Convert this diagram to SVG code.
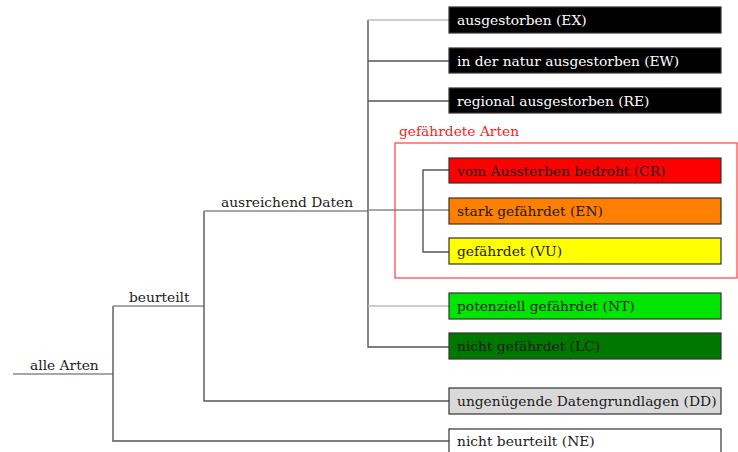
<svg xmlns="http://www.w3.org/2000/svg" width="738" height="452" viewBox="0 0 738 452">
<style>
.t{font-family:"DejaVu Serif","Liberation Serif",serif;font-size:13.8px;fill:#1a1a1a}
.w{fill:#ffffff}
.box{stroke:#333;stroke-width:1.2}
.ln{fill:none;stroke:#555;stroke-width:1.4}
.lt{fill:none;stroke:#bdbdbd;stroke-width:1.4}
.md{fill:none;stroke:#8a8a8a;stroke-width:1.4}
</style>
<rect width="738" height="452" fill="#ffffff"/>
<g id="connectors">
<line class="md" x1="13" y1="374" x2="113" y2="374"/>
<polyline class="ln" points="113,306 113,441 449,441"/>
<line class="md" x1="113" y1="306" x2="204" y2="306"/>
<polyline class="ln" points="204,211 204,401 449,401"/>
<line class="md" x1="204" y1="211" x2="368" y2="211"/>
<polyline class="ln" points="368,20 368,347 449,347"/>
<line class="lt" x1="368" y1="20" x2="449" y2="20"/>
<line class="ln" x1="368" y1="61" x2="449" y2="61"/>
<line class="ln" x1="368" y1="101" x2="449" y2="101"/>
<line class="lt" x1="368" y1="306" x2="449" y2="306"/>
<line class="md" x1="368" y1="210" x2="449" y2="210"/>
<polyline class="ln" points="449,170 423,170 423,252 449,252"/>
</g>
<g id="labels">
<text class="t" x="30" y="370">alle Arten</text>
<text class="t" x="129" y="302">beurteilt</text>
<text class="t" x="221" y="207">ausreichend Daten</text>
</g>
<g id="gefaehrdete">
<rect x="395" y="143" width="342" height="135" fill="none" stroke="#ff4040" stroke-width="1.2"/>
<text class="t" x="399" y="136" style="fill:#ff2020">gefährdete Arten</text>
</g>
<g id="EX"><rect class="box" x="449" y="7" width="272" height="26" fill="#000"/><text class="t w" x="457" y="25">ausgestorben (EX)</text></g>
<g id="EW"><rect class="box" x="449" y="48" width="272" height="25" fill="#000"/><text class="t w" x="457" y="66">in der natur ausgestorben (EW)</text></g>
<g id="RE"><rect class="box" x="449" y="88" width="272" height="25" fill="#000"/><text class="t w" x="457" y="106">regional ausgestorben (RE)</text></g>
<g id="CR"><rect class="box" x="449" y="158" width="272" height="25" fill="#ff0000"/><text class="t" x="457" y="176">vom Aussterben bedroht (CR)</text></g>
<g id="EN"><rect class="box" x="449" y="198" width="272" height="26" fill="#ff8000"/><text class="t" x="457" y="216">stark gefährdet (EN)</text></g>
<g id="VU"><rect class="box" x="449" y="238" width="272" height="26" fill="#ffff00"/><text class="t" x="457" y="256">gefährdet (VU)</text></g>
<g id="NT"><rect class="box" x="449" y="293" width="272" height="26" fill="#00e600"/><text class="t" x="457" y="311">potenziell gefährdet (NT)</text></g>
<g id="LC"><rect class="box" x="449" y="333" width="272" height="26" fill="#007800"/><text class="t" x="457" y="351">nicht gefährdet (LC)</text></g>
<g id="DD"><rect class="box" x="449" y="388" width="272" height="26" fill="#d9d9d9"/><text class="t" x="457" y="406">ungenügende Datengrundlagen (DD)</text></g>
<g id="NE"><rect class="box" x="449" y="429" width="272" height="30" fill="#ffffff"/><text class="t" x="457" y="446">nicht beurteilt (NE)</text></g>
</svg>
